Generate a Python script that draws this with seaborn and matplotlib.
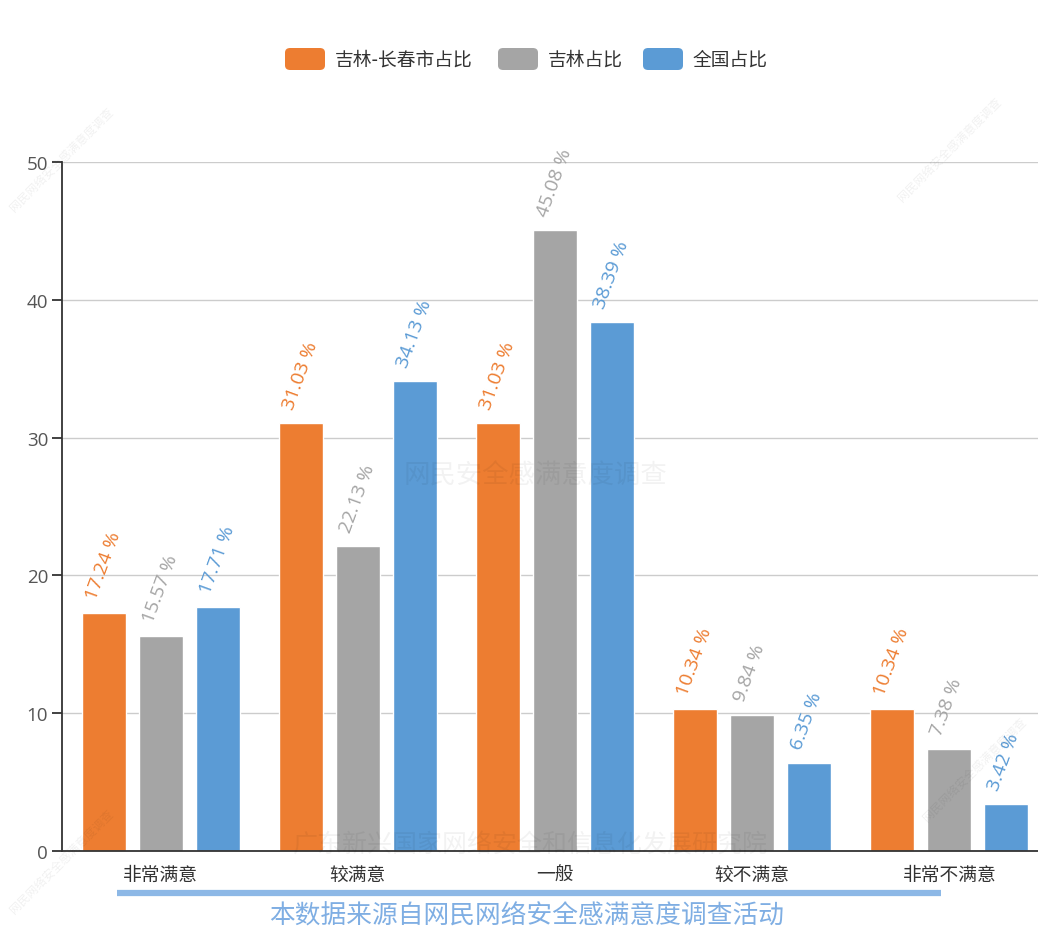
import numpy as np
import pandas as pd
import matplotlib
matplotlib.use("Agg")
import matplotlib.pyplot as plt
from matplotlib.patches import FancyBboxPatch
from matplotlib.lines import Line2D
import seaborn as sns

categories = ["非常满意", "较满意", "一般", "较不满意", "非常不满意"]
series_names = ["吉林-长春市占比", "吉林占比", "全国占比"]
changchun = [17.24, 31.03, 31.03, 10.34, 10.34]
jilin = [15.57, 22.13, 45.08, 9.84, 7.38]
national = [17.71, 34.13, 38.39, 6.35, 3.42]
y_ticks = [0, 10, 20, 30, 40, 50]
colors = ["#ED7D31", "#A5A5A5", "#5B9BD5"]
footnote = "本数据来源自网民网络安全感满意度调查活动"

sns.set_theme(style="white")
plt.rcParams["font.family"] = ["Noto Sans CJK SC", "DejaVu Sans"]

df = pd.DataFrame({
    "cat": categories * 3,
    "series": [series_names[0]] * 5 + [series_names[1]] * 5 + [series_names[2]] * 5,
    "val": changchun + jilin + national,
})

W, H = 1038, 929
fig = plt.figure(figsize=(W / 100, H / 100), dpi=100)
ax = fig.add_axes([62 / W, 77 / H, 986 / W, 689 / H])

sns.barplot(data=df, x="cat", y="val", hue="series", hue_order=series_names,
            order=categories, palette=colors, width=0.868, gap=0.228,
            saturation=1, legend=False, ax=ax, zorder=3)

ax.set_xlim(-0.5, 4.5)
ax.set_ylim(0, 50)
ax.set_yticks(y_ticks)
ax.set_yticklabels([str(t) for t in y_ticks], family=["Open Sans", "DejaVu Sans"])
ax.set_xlabel("")
ax.set_ylabel("")
ax.yaxis.grid(True, color="#cccccc", lw=1, zorder=0)
ax.xaxis.grid(False)
ax.set_axisbelow(True)
for s in ["top", "right"]:
    ax.spines[s].set_visible(False)
for s in ["left", "bottom"]:
    ax.spines[s].set_color("#333333")
    ax.spines[s].set_linewidth(1.3)
    ax.spines[s].set_zorder(5)

ax.set_xticks(np.arange(len(categories)))
ax.set_xticklabels(categories)
ax.set_xticks(np.arange(-0.5, len(categories), 1), minor=True)
ax.tick_params(axis="x", which="major", length=0, pad=9, labelsize=13.5, labelcolor="#333333")
ax.tick_params(axis="x", which="minor", length=6, width=1.3, color="#333333", direction="out")
ax.tick_params(axis="y", which="major", length=7, width=1.3, color="#333333",
               direction="out", labelsize=13.5, labelcolor="#555555", pad=3, left=True)

# data labels
for container, c in zip(ax.containers, colors):
    for bar in container:
        x = bar.get_x() + bar.get_width() / 2
        v = bar.get_height()
        ax.annotate(f"{v:.2f} %", xy=(x, v), xytext=(-8 * 0.72, 13 * 0.72),
                    textcoords="offset points", rotation=70, rotation_mode="anchor",
                    ha="left", va="baseline", color=c, fontsize=14,
                    family=["Open Sans", "DejaVu Sans"], zorder=6,
                    annotation_clip=False)

# legend (manual, rounded keys)
def fx(px):
    return px / W

def fy(py):
    return 1 - py / H

legend_items = [(285, 335), (498, 548), (643, 693)]
for (bx, tx), name, c in zip(legend_items, series_names, colors):
    fig.patches.append(FancyBboxPatch((fx(bx), fy(71)), fx(40), 22 / H,
                                      boxstyle="round,pad=0,rounding_size=0.005",
                                      transform=fig.transFigure, facecolor=c,
                                      edgecolor="none"))
    fig.text(fx(tx), fy(60), name, ha="left", va="center", fontsize=13.5, color="#333333")

# footnote
fig.add_artist(Line2D([fx(117), fx(941)], [fy(894), fy(894)], transform=fig.transFigure,
                      color="#8DB8E6", lw=4.5, solid_capstyle="butt"))
fig.text(fx(527), fy(917), footnote, ha="center", va="center", fontsize=18.5, color="#7FAEE3")

# faint watermarks
fig.text(fx(535), fy(476), "网民安全感满意度调查", ha="center", va="center", fontsize=19,
         color="#000000", alpha=0.05, zorder=10)
fig.text(fx(530), fy(846), "广东新兴国家网络安全和信息化发展研究院", ha="center", va="center",
         fontsize=18, color="#000000", alpha=0.05, zorder=10)
for (px, py) in [(62, 160), (950, 150), (62, 862), (975, 770)]:
    fig.text(fx(px), fy(py), "网民网络安全感满意度调查", ha="center", va="center",
             fontsize=8.5, rotation=45, color="#000000", alpha=0.06, zorder=10)

fig.savefig("out.png", dpi=100)
